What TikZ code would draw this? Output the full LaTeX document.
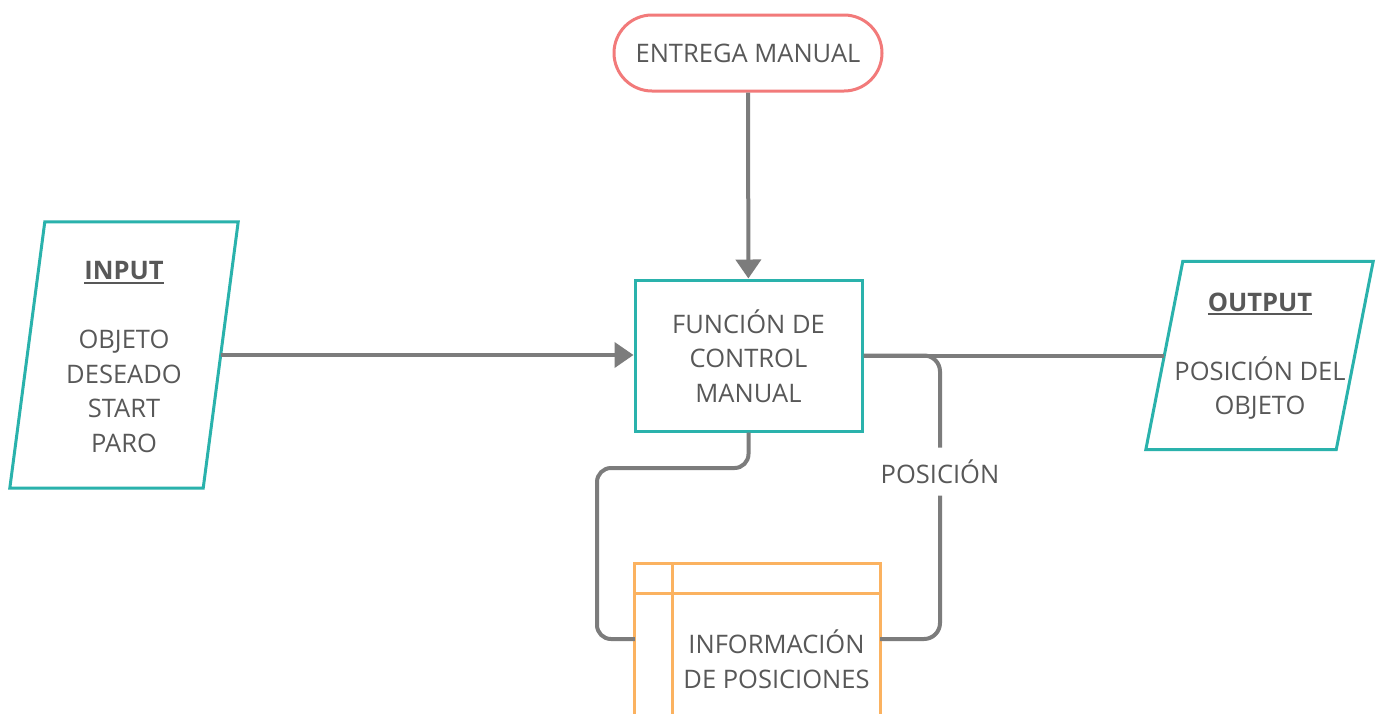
\documentclass[tikz,border=0pt]{standalone}
\usepackage{fontspec}
\setmainfont{Open Sans}
\usetikzlibrary{arrows.meta}
\definecolor{txtgray}{RGB}{88,88,88}
\definecolor{linegray}{RGB}{124,124,124}
\definecolor{tealc}{RGB}{42,178,172}
\definecolor{redc}{RGB}{242,122,122}
\definecolor{orangec}{RGB}{251,178,96}
% underline with a rule scaled to the large text
\newcommand\undl[1]{\setbox0\hbox{#1}\rlap{\rule[-4pt]{\wd0}{1.8pt}}\box0}
\tikzset{
  txt/.style={text=txtgray, align=center, inner sep=0pt,
    font=\fontsize{25.5}{34.5}\selectfont},
  conn/.style={draw=linegray, line width=4pt},
  tip/.style={-{Triangle[length=19pt,width=25pt]}},
  box/.style={draw=tealc, line width=3pt, minimum width=227pt, minimum height=151pt, inner sep=0pt},
  term/.style={draw=redc, line width=3pt, rounded corners=38pt, minimum width=268pt, minimum height=76pt},
  body/.style={draw=none, inner sep=0pt},
  lbl/.style={txt, fill=white, minimum height=48pt, inner xsep=4pt}
}
\begin{document}
\begin{tikzpicture}[x=1pt,y=-1pt]
\clip (0,0) rectangle (1376,713);
\fill[white] (0,0) rectangle (1376,713);

% terminator and main function block
\node[term, txt] (entrega) at (748,53) {ENTREGA MANUAL};
\node[box] (ctrl) at (748.5,355.5) {};
\node[txt] (ctrltext) at (748.5,356) {FUNCIÓN DE\\CONTROL\\MANUAL};

% input parallelogram
\node[body, minimum width=193pt, minimum height=266pt] (in) at (124,355) {};
\draw[draw=tealc, line width=3pt, line join=miter]
  ([xshift=17.5pt]in.north west) -- ([xshift=17.5pt]in.north east)
  -- ([xshift=-17.5pt]in.south east) -- ([xshift=-17.5pt]in.south west) -- cycle;
\node[txt] (intext) at (124,357) {\undl{\textbf{INPUT}}\\[34.5pt]OBJETO\\DESEADO\\START\\PARO};

% output parallelogram
\node[body, minimum width=190pt, minimum height=188pt] (out) at (1259.5,355.5) {};
\draw[draw=tealc, line width=3pt, line join=miter]
  ([xshift=18.5pt]out.north west) -- ([xshift=18.5pt]out.north east)
  -- ([xshift=-18.5pt]out.south east) -- ([xshift=-18.5pt]out.south west) -- cycle;
\node[txt] (outtext) at (1260,356) {\undl{\textbf{OUTPUT}}\\[34.5pt]POSICIÓN DEL\\OBJETO};

% data store
\node[body, minimum width=245pt, minimum height=150pt] (store) at (757.5,639) {};
\draw[draw=orangec, line width=3pt, line join=miter]
  (store.south west) -- (store.north west) -- (store.north east) -- (store.south east);
\draw[draw=orangec, line width=3pt]
  ([yshift=-30pt]store.north west) -- ([yshift=-30pt]store.north east)
  ([xshift=38pt]store.north west) -- ([xshift=38pt]store.south west);
\node[txt] (storetext) at (776.5,659) {INFORMACIÓN\\DE POSICIONES};

% connectors
\coordinate (rtop) at (940,355.5);
\coordinate (rbot) at (940,639);
\coordinate (lmid) at (597,468);
\draw[conn, tip] (entrega) -- (ctrl);
\draw[conn, tip] (in.east) -- (ctrl.west |- in.east);
\draw[conn] (ctrl.east) -- (out.west);
\draw[conn, rounded corners=16pt] (ctrl.east) -- (rtop)
  -- node[lbl, pos=0.41] (poslbl) {POSICIÓN} (rbot) -- (store.east);
\draw[conn, rounded corners=14pt] (ctrl.south) |- (lmid) |- (store.west);
\end{tikzpicture}
\end{document}
